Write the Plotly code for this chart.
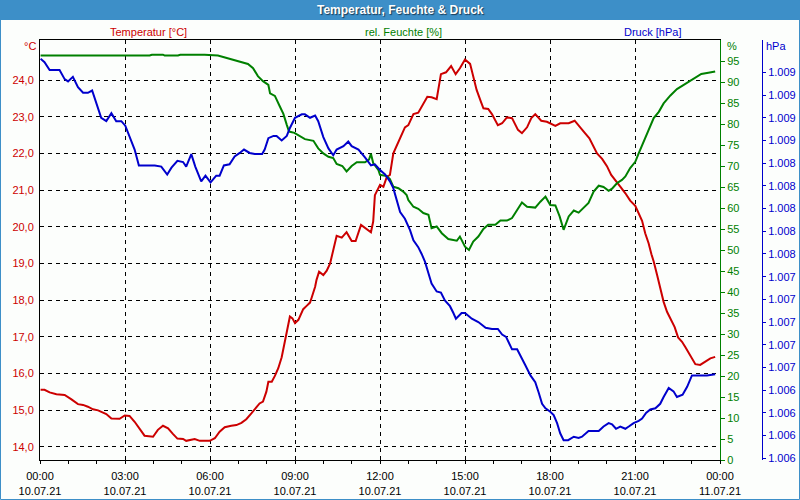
import plotly.graph_objects as go

# ---------------- data ----------------
hours_temp = [0.02, 0.16, 0.34, 0.58, 0.87, 0.99, 1.11, 1.34, 1.52, 1.69, 1.87, 2.05, 2.16, 2.34, 2.52,
              2.81, 2.99, 3.16, 3.34, 3.52, 3.69, 3.99, 4.16, 4.34, 4.52, 4.69, 4.85, 5.05, 5.16, 5.46,
              5.64, 5.99, 6.17, 6.34, 6.52, 6.75, 6.93, 7.11, 7.28, 7.46, 7.64, 7.75, 7.87, 7.99, 8.06,
              8.18, 8.29, 8.41, 8.53, 8.62, 8.67, 8.74, 8.82, 8.91, 9.00, 9.12, 9.29, 9.41, 9.53, 9.59,
              9.71, 9.76, 9.85, 10.00, 10.12, 10.24, 10.35, 10.47, 10.65, 10.82, 11.00, 11.14, 11.33,
              11.47, 11.68, 11.76, 11.82, 12.00, 12.12, 12.24, 12.35, 12.47, 12.59, 12.77, 12.88, 13.00,
              13.18, 13.35, 13.53, 13.67, 13.82, 14.00, 14.15, 14.33, 14.51, 14.67, 14.82, 15.00, 15.18,
              15.29, 15.41, 15.56, 15.65, 15.82, 15.95, 16.16, 16.31, 16.48, 16.66, 16.87, 17.01, 17.19,
              17.34, 17.48, 17.69, 17.89, 18.19, 18.36, 18.66, 18.87, 19.01, 19.19, 19.39, 19.66, 19.84,
              20.01, 20.16, 20.31, 20.48, 20.66, 20.83, 21.01, 21.13, 21.25, 21.36, 21.48, 21.58, 21.66,
              21.78, 21.89, 22.01, 22.13, 22.27, 22.40, 22.52, 22.66, 22.78, 22.95, 23.13, 23.30, 23.48,
              23.66, 23.83]
temperature = [15.55, 15.55, 15.48, 15.43, 15.41, 15.36, 15.29, 15.16, 15.14, 15.09, 15.02, 14.99, 14.95,
               14.89, 14.77, 14.76, 14.85, 14.84, 14.68, 14.50, 14.30, 14.27, 14.46, 14.57, 14.50, 14.35,
               14.22, 14.21, 14.16, 14.21, 14.16, 14.16, 14.23, 14.41, 14.53, 14.57, 14.59, 14.65, 14.75,
               14.91, 15.09, 15.18, 15.23, 15.50, 15.77, 15.77, 15.93, 16.14, 16.44, 16.77, 16.98, 17.18,
               17.55, 17.50, 17.37, 17.46, 17.75, 17.84, 17.93, 18.07, 18.36, 18.55, 18.77, 18.68, 18.80,
               19.00, 19.36, 19.75, 19.70, 19.85, 19.61, 19.61, 20.05, 19.97, 19.85, 20.14, 20.86, 21.14,
               21.09, 21.36, 21.41, 22.00, 22.20, 22.50, 22.71, 22.77, 23.07, 23.11, 23.36, 23.54, 23.53,
               23.48, 24.16, 24.21, 24.38, 24.16, 24.32, 24.56, 24.44, 24.09, 23.73, 23.41, 23.23, 23.21,
               23.07, 22.77, 22.82, 22.98, 22.96, 22.64, 22.55, 22.71, 22.96, 23.07, 22.89, 22.86, 22.75,
               22.82, 22.82, 22.89, 22.77, 22.59, 22.41, 22.00, 21.85, 21.65, 21.41, 21.27, 21.09, 20.91,
               20.71, 20.57, 20.37, 20.16, 19.82, 19.55, 19.25, 19.05, 18.68, 18.32, 17.95, 17.68, 17.46,
               17.26, 16.98, 16.86, 16.71, 16.47, 16.25, 16.23, 16.32, 16.41, 16.45]

hours_hum = [0.02, 3.87, 3.95, 4.34, 4.40, 4.87, 4.95, 5.81, 6.28, 6.75, 6.99, 7.34, 7.52, 7.69, 7.87,
             8.06, 8.12, 8.29, 8.47, 8.59, 8.71, 8.79, 8.98, 9.18, 9.35, 9.65, 9.82, 10.00, 10.18, 10.35,
             10.47, 10.67, 10.82, 11.00, 11.18, 11.47, 11.61, 11.68, 11.76, 11.94, 12.00, 12.24, 12.35,
             12.47, 12.65, 12.82, 12.94, 13.00, 13.18, 13.35, 13.53, 13.71, 13.82, 14.00, 14.18, 14.41,
             14.71, 14.82, 15.00, 15.14, 15.29, 15.47, 15.65, 15.82, 16.07, 16.25, 16.48, 16.66, 16.84,
             17.01, 17.19, 17.48, 17.66, 17.84, 18.01, 18.19, 18.34, 18.48, 18.66, 18.84, 19.01, 19.19,
             19.36, 19.54, 19.72, 19.89, 20.07, 20.19, 20.36, 20.54, 20.66, 20.83, 21.01, 21.13, 21.31,
             21.48, 21.66, 21.84, 22.01, 22.25, 22.48, 22.72, 22.95, 23.13, 23.34, 23.59, 23.83]
humidity = [96.3, 96.3, 96.5, 96.5, 96.3, 96.3, 96.5, 96.5, 96.3, 95.4, 95.0, 94.3, 93.3, 91.4, 90.2,
            89.3, 87.3, 86.7, 84.1, 82.4, 79.8, 78.2, 77.9, 77.0, 76.4, 76.0, 74.2, 73.0, 72.2, 71.9,
            70.5, 70.0, 68.7, 70.0, 70.9, 70.9, 71.5, 72.9, 70.7, 69.1, 67.9, 67.6, 66.9,
            65.1, 64.7, 63.9, 63.1, 61.9, 60.3, 59.8, 58.8, 58.4, 55.2, 55.6, 54.0, 52.6,
            52.2, 53.2, 50.8, 50.0, 52.0, 53.2, 55.0, 56.0, 56.0, 57.0, 57.0, 57.6, 59.6,
            61.3, 60.3, 60.1, 61.5, 62.7, 60.7, 60.6, 58.0, 54.8, 58.0, 59.4, 58.9, 60.0,
            61.2, 63.9, 65.3, 65.0, 64.1, 64.6, 65.9, 66.7, 67.5, 69.5, 71.0, 73.0, 75.8,
            78.6, 81.4, 82.9, 84.9, 86.8, 88.3, 89.3, 90.3, 90.9, 91.9, 92.2, 92.5]

hours_press = [0.02, 0.16, 0.34, 0.69, 0.87, 0.99, 1.16, 1.34, 1.52, 1.69, 1.84, 1.93, 2.05, 2.16, 2.34,
               2.52, 2.69, 2.87, 3.01, 3.22, 3.34, 3.49, 3.64, 4.05, 4.28, 4.49, 4.64, 4.85, 5.05, 5.16,
               5.34, 5.48, 5.69, 5.84, 6.02, 6.22, 6.34, 6.49, 6.69, 6.87, 7.05, 7.20, 7.40, 7.58, 7.84,
               7.93, 8.06, 8.24, 8.35, 8.53, 8.71, 8.82, 9.00, 9.24, 9.35, 9.53, 9.71, 9.82, 10.00, 10.18,
               10.35, 10.47, 10.71, 10.88, 11.00, 11.24, 11.47, 11.68, 11.82, 12.00, 12.18, 12.35, 12.47,
               12.59, 12.71, 12.88, 13.06, 13.18, 13.35, 13.47, 13.59, 13.71, 13.82, 14.00, 14.15, 14.29,
               14.47, 14.59, 14.68, 14.88, 15.00, 15.24, 15.47, 15.73, 15.95, 16.16, 16.31, 16.45, 16.66,
               16.84, 16.95, 17.13, 17.31, 17.48, 17.60, 17.72, 17.84, 18.01, 18.13, 18.25, 18.36, 18.48,
               18.64, 18.84, 19.01, 19.13, 19.36, 19.72, 19.89, 20.07, 20.19, 20.33, 20.48, 20.66, 20.78,
               20.95, 21.13, 21.25, 21.39, 21.54, 21.72, 21.89, 22.01, 22.19, 22.36, 22.48, 22.68, 22.84,
               23.01, 23.31, 23.54, 23.83]
pressure = [1009.22, 1009.19, 1009.12, 1009.12, 1009.04, 1009.02, 1009.06, 1008.97, 1008.92, 1008.92,
            1008.94, 1008.87, 1008.77, 1008.70, 1008.67, 1008.74, 1008.67, 1008.67, 1008.63, 1008.50,
            1008.42, 1008.28, 1008.28, 1008.28, 1008.27, 1008.20, 1008.26, 1008.32, 1008.31, 1008.27,
            1008.38, 1008.27, 1008.14, 1008.19, 1008.13, 1008.19, 1008.19, 1008.28, 1008.29, 1008.36,
            1008.39, 1008.42, 1008.39, 1008.38, 1008.38, 1008.42, 1008.52, 1008.54, 1008.54, 1008.50,
            1008.54, 1008.61, 1008.70, 1008.73, 1008.73, 1008.70, 1008.72, 1008.67, 1008.53, 1008.43,
            1008.37, 1008.42, 1008.45, 1008.49, 1008.45, 1008.42, 1008.35, 1008.28, 1008.29, 1008.24,
            1008.20, 1008.14, 1008.08, 1007.98, 1007.87, 1007.81, 1007.71, 1007.62, 1007.56, 1007.50,
            1007.43, 1007.33, 1007.24, 1007.17, 1007.16, 1007.09, 1007.04, 1006.98, 1006.93, 1006.98,
            1006.98, 1006.93, 1006.90, 1006.85, 1006.84, 1006.84, 1006.79, 1006.77, 1006.66, 1006.66,
            1006.61, 1006.52, 1006.43, 1006.37, 1006.28, 1006.18, 1006.14, 1006.11, 1006.08, 1006.01,
            1005.92, 1005.86, 1005.86, 1005.89, 1005.88, 1005.89, 1005.94, 1005.94, 1005.98, 1006.01,
            1006.00, 1005.96, 1005.98, 1005.96, 1005.98, 1006.01, 1006.03, 1006.05, 1006.10, 1006.13,
            1006.14, 1006.18, 1006.24, 1006.32, 1006.29, 1006.24, 1006.26, 1006.33, 1006.43, 1006.43,
            1006.43, 1006.44]

x_tick_hours = [0, 3, 6, 9, 12, 15, 18, 21, 24]
x_tick_labels = ["00:00<br>10.07.21", "03:00<br>10.07.21", "06:00<br>10.07.21", "09:00<br>10.07.21",
                 "12:00<br>10.07.21", "15:00<br>10.07.21", "18:00<br>10.07.21", "21:00<br>10.07.21",
                 "00:00<br>11.07.21"]
temp_ticks = [14, 15, 16, 17, 18, 19, 20, 21, 22, 23, 24]
temp_tick_labels = ["14,0", "15,0", "16,0", "17,0", "18,0", "19,0", "20,0", "21,0", "22,0", "23,0", "24,0"]
hum_ticks = [0, 5, 10, 15, 20, 25, 30, 35, 40, 45, 50, 55, 60, 65, 70, 75, 80, 85, 90, 95]
press_ticks = [1005.7, 1005.9, 1006.1, 1006.3, 1006.5, 1006.7, 1006.9, 1007.1, 1007.3, 1007.5,
               1007.7, 1007.9, 1008.1, 1008.3, 1008.5, 1008.7, 1008.9, 1009.1]
press_tick_labels = ["1.006"] * 4 + ["1.007"] * 5 + ["1.008"] * 5 + ["1.009"] * 4

# ---------------- styling ----------------
RED = "#cc0000"
GREEN = "#008000"
BLUE = "#0000cc"
BAR = "#3d8fc8"
FONT = "Liberation Sans"

W, H = 800, 500
ML, MR, MT, MB = 40, 38, 40, 40
PW = W - ML - MR
PH = H - MT - MB


def X(px):
    return (px - ML) / PW


def Y(py):
    return (H - MB - py) / PH


fig = go.Figure()
fig.add_trace(go.Scatter(x=hours_hum, y=humidity, yaxis="y2", mode="lines",
                         line=dict(color=GREEN, width=2), name="rel. Feuchte [%]"))
fig.add_trace(go.Scatter(x=hours_press, y=pressure, yaxis="y3", mode="lines",
                         line=dict(color=BLUE, width=2), name="Druck [hPa]"))
fig.add_trace(go.Scatter(x=hours_temp, y=temperature, yaxis="y", mode="lines",
                         line=dict(color=RED, width=2), name="Temperatur [°C]"))

grid = dict(showgrid=True, gridcolor="black", gridwidth=1, griddash="4px,4px")

fig.update_layout(
    width=W, height=H, autosize=False,
    margin=dict(l=ML, r=MR, t=MT, b=MB, pad=0, autoexpand=False),
    paper_bgcolor="#fcfefc", plot_bgcolor="#fcfefc",
    showlegend=False,
    font=dict(family=FONT, size=11, color="black"),
    xaxis=dict(domain=[0, (720 - ML) / PW], range=[0, 24], tickvals=x_tick_hours,
               ticktext=x_tick_labels, ticks="outside", ticklen=3, tickcolor="black",
               minor=dict(dtick=1, ticks="outside", ticklen=3, tickcolor="black", showgrid=False),
               showline=True, linecolor="black", linewidth=1, mirror=True, zeroline=False,
               automargin=False, ticklabelstandoff=3,
               tickfont=dict(size=11, color="black"), **grid),
    yaxis=dict(range=[13.637, 25.091], tickvals=temp_ticks, ticktext=temp_tick_labels,
               ticks="", showline=True, linecolor="black", linewidth=1, zeroline=False,
               automargin=False,
               tickfont=dict(size=11, color=RED), ticklabelstandoff=3, **grid),
    yaxis2=dict(range=[0, 100.0], tickvals=hum_ticks, overlaying="y", side="right",
                anchor="x", showgrid=False, zeroline=False, showline=True, linecolor=GREEN,
                linewidth=1, ticks="outside", ticklen=4, tickcolor=GREEN, automargin=False,
                tickfont=dict(size=11, color=GREEN)),
    yaxis3=dict(range=[1005.685, 1009.385], tickvals=press_ticks, ticktext=press_tick_labels,
                overlaying="y", side="right", anchor="free", position=1.0, showgrid=False,
                zeroline=False, showline=True, linecolor=BLUE, linewidth=1, ticks="outside",
                ticklen=3, tickcolor=BLUE, automargin=False, tickfont=dict(size=11, color=BLUE)),
    shapes=[
        dict(type="rect", xref="paper", yref="paper", x0=X(0), x1=X(800), y0=Y(20), y1=Y(0),
             fillcolor=BAR, line=dict(width=0), layer="above"),
        dict(type="rect", xref="paper", yref="paper", x0=X(0.5), x1=X(799.5), y0=Y(499.5), y1=Y(0.5),
             fillcolor="rgba(0,0,0,0)", line=dict(color=BAR, width=1)),
    ],
    annotations=[
        dict(text="<b>Temperatur, Feuchte &amp; Druck</b>", x=X(400), y=Y(10), xref="paper", yref="paper",
             xanchor="center", yanchor="middle", showarrow=False,
             font=dict(family=FONT, size=12, color="white", shadow="1px 1px 1px #1a3a55")),
        dict(text="Temperatur [°C]", x=X(148), y=Y(32), xref="paper", yref="paper",
             xanchor="center", yanchor="middle", showarrow=False, font=dict(size=11, color=RED)),
        dict(text="rel. Feuchte [%]", x=X(403), y=Y(32), xref="paper", yref="paper",
             xanchor="center", yanchor="middle", showarrow=False, font=dict(size=11, color=GREEN)),
        dict(text="Druck [hPa]", x=X(652), y=Y(32), xref="paper", yref="paper",
             xanchor="center", yanchor="middle", showarrow=False, font=dict(size=11, color=BLUE)),
        dict(text="°C", x=X(38), y=Y(46), xref="paper", yref="paper",
             xanchor="right", yanchor="middle", showarrow=False, font=dict(size=11, color=RED)),
        dict(text="%", x=X(725), y=Y(46), xref="paper", yref="paper",
             xanchor="left", yanchor="middle", showarrow=False, font=dict(size=11, color=GREEN)),
        dict(text="hPa", x=X(764), y=Y(46), xref="paper", yref="paper",
             xanchor="left", yanchor="middle", showarrow=False, font=dict(size=11, color=BLUE)),
    ],
)

fig.write_html("out.html")
